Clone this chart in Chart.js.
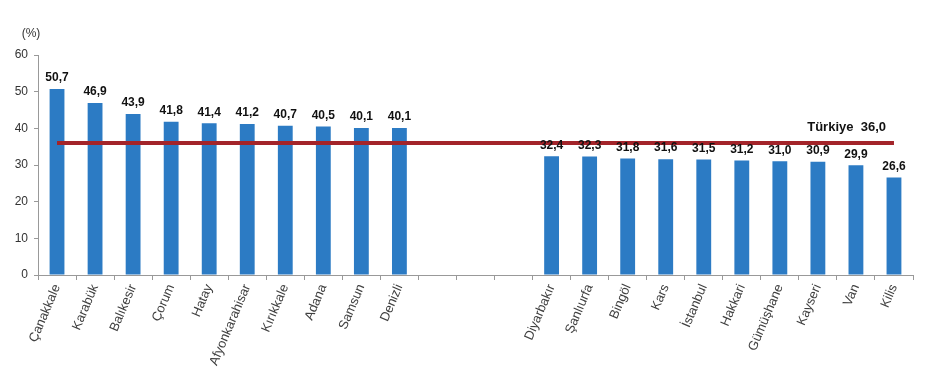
<!DOCTYPE html>
<html><head><meta charset="utf-8">
<script src="https://cdn.jsdelivr.net/npm/chart.js@4"></script>
<style>html,body{margin:0;padding:0;background:#fff}#wrap{width:939px;height:380px}</style>
</head><body><div id="wrap"><canvas id="c" width="939" height="380"></canvas></div>
<script>
const categories = ["Çanakkale","Karabük","Balıkesir","Çorum","Hatay","Afyonkarahisar","Kırıkkale","Adana","Samsun","Denizli","","","","Diyarbakır","Şanlıurfa","Bingöl","Kars","İstanbul","Hakkari","Gümüşhane","Kayseri","Van","Kilis"];
const values = [50.7,46.9,43.9,41.8,41.4,41.2,40.7,40.5,40.1,40.1,null,null,null,32.4,32.3,31.8,31.6,31.5,31.2,31.0,30.9,29.9,26.6];
const turkiyeValue = 36.0;
const turkiyeLabel = "Türkiye";
const turkiyeLine = categories.map(() => turkiyeValue);
const yTicks = [0,10,20,30,40,50,60];
const fmt = v => v.toFixed(1).replace('.', ',');

const labelPlugin = {
  id: 'labels',
  afterDatasetsDraw(chart) {
    const ctx = chart.ctx;
    const meta = chart.getDatasetMeta(1);
    ctx.save();
    ctx.font = 'bold 12px "Liberation Sans", Arial, sans-serif';
    ctx.fillStyle = '#111';
    ctx.textAlign = 'center';
    ctx.textBaseline = 'bottom';
    meta.data.forEach((el, i) => {
      const v = values[i];
      if (v === null) return;
      ctx.fillText(fmt(v), el.x, el.y - 5);
    });
    const xs = chart.scales.x, ys = chart.scales.y;
    const lx = xs.getPixelForValue(categories.length - 1) - 8;
    const ly = ys.getPixelForValue(turkiyeValue) - 9;
    ctx.textAlign = 'right';
    ctx.font = 'bold 13px "Liberation Sans", Arial, sans-serif';
    ctx.fillText(turkiyeLabel + '  ' + fmt(turkiyeValue), lx, ly);
    ctx.font = '12px "Liberation Sans", Arial, sans-serif';
    ctx.fillStyle = '#333';
    ctx.textAlign = 'center';
    ctx.textBaseline = 'middle';
    ctx.fillText('(%)', chart.chartArea.left - 7, 34);
    ctx.restore();
  }
};

new Chart(document.getElementById('c'), {
  data: {
    labels: categories,
    datasets: [
      {
        type: 'line',
        data: turkiyeLine,
        borderColor: '#A3242A',
        borderWidth: 4,
        pointRadius: 0,
        order: 0
      },
      {
        type: 'bar',
        data: values,
        backgroundColor: '#2C7BC4',
        barPercentage: 0.39,
        categoryPercentage: 1.0,
        order: 1
      }
    ]
  },
  options: {
    responsive: false,
    animation: false,
    devicePixelRatio: 1,
    layout: { padding: { left: 0, right: 26, top: 55, bottom: 0 } },
    plugins: { legend: { display: false }, tooltip: { enabled: false } },
    scales: {
      x: {
        offset: true,
        grid: { offset: true, drawOnChartArea: false, drawTicks: true, tickLength: 5, color: '#999' },
        border: { display: true, color: '#999' },
        ticks: {
          autoSkip: false, maxRotation: 67, minRotation: 67,
          color: '#404040', padding: 2,
          font: { size: 13, family: '"Liberation Sans", Arial, sans-serif' }
        },
        afterFit(s) { s.height = 105; }
      },
      y: {
        min: 0, max: 60,
        afterBuildTicks(s) { s.ticks = yTicks.map(v => ({ value: v })); },
        grid: { drawOnChartArea: false, drawTicks: true, tickLength: 4, color: '#999' },
        border: { display: true, color: '#999' },
        ticks: { color: '#333', padding: 6, font: { size: 12, family: '"Liberation Sans", Arial, sans-serif' } },
        afterFit(s) { s.width = 38; }
      }
    }
  },
  plugins: [labelPlugin]
});
</script>
</body></html>
